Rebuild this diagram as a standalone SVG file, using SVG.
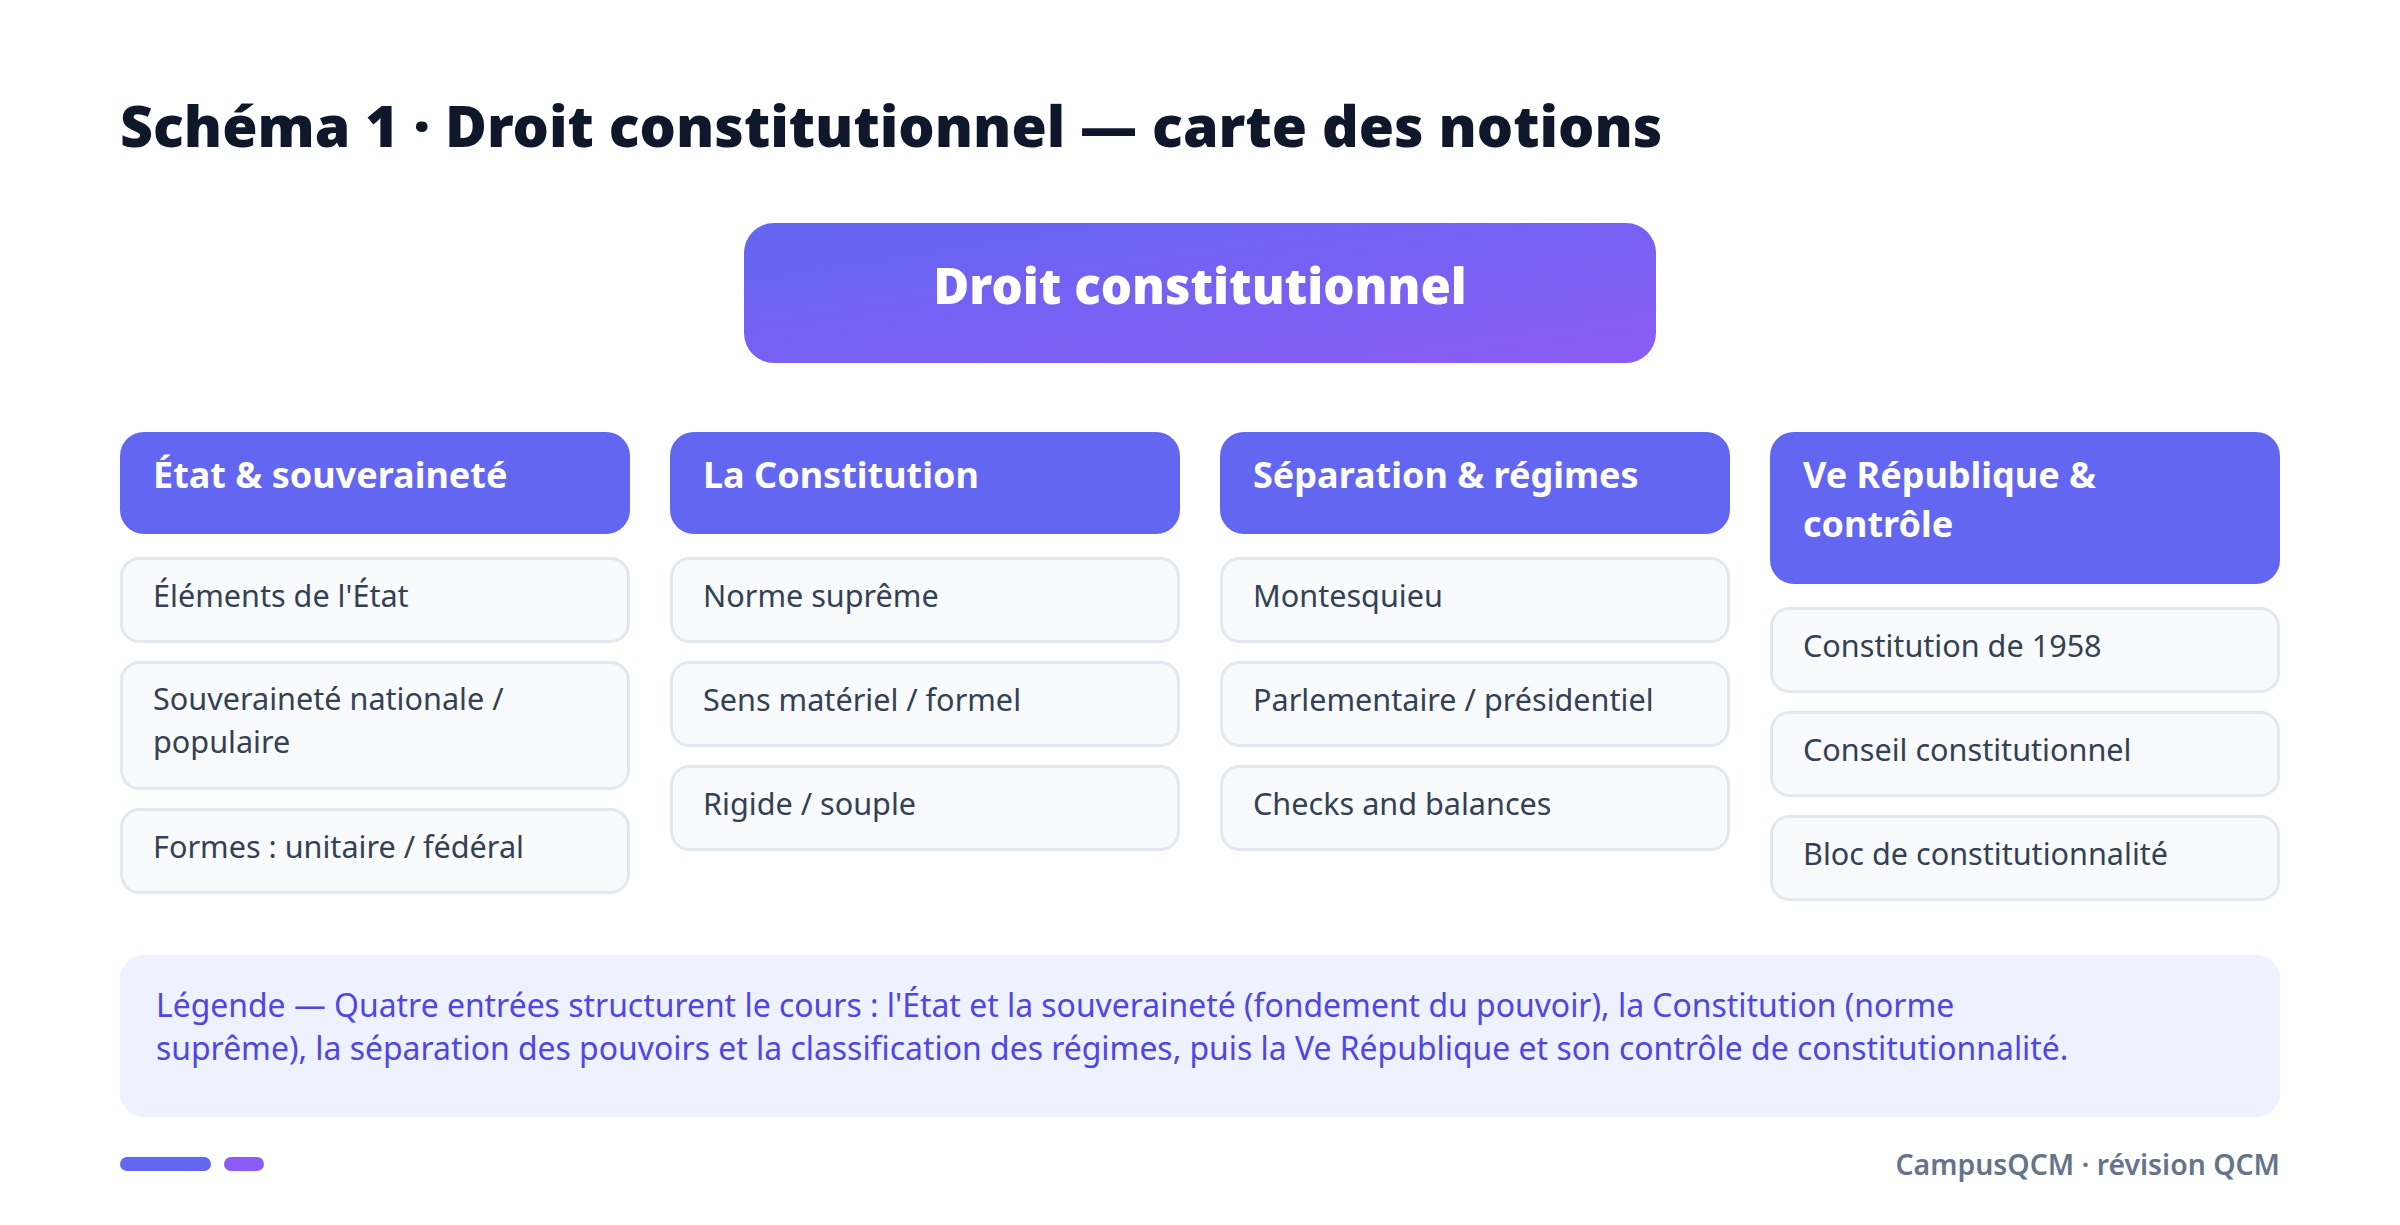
<svg xmlns="http://www.w3.org/2000/svg" width="2400" height="1225" viewBox="0 0 2400 1225">
<defs>
<linearGradient id="rootGrad" x1="0" y1="0" x2="1" y2="1">
<stop offset="0" stop-color="#6366f1"/>
<stop offset="1" stop-color="#8b5cf6"/>
</linearGradient>
<style>
text{font-family:"Noto Sans","Open Sans","DejaVu Sans",sans-serif}
.title{font-size:57.2px;font-weight:900;fill:#0f172a}
.root-t{font-size:49.2px;font-weight:900;fill:#ffffff}
.hdr{fill:#6366f1}
.hdr-t{font-size:36px;font-weight:700;fill:#ffffff}
.item{fill:#f8fafc;stroke:#e2e8f0;stroke-width:3}
.item-t{font-size:30.6px;font-weight:400;fill:#334155}
.legend{fill:#eef2ff}
.legend-t{font-size:31.9px;font-weight:400;fill:#4f46e5}
.foot{font-size:28.4px;font-weight:600;fill:#64748b}
</style>
</defs>
<rect width="2400" height="1225" fill="#ffffff"/>
<text class="title" x="120" y="147">Schéma 1 · Droit constitutionnel — carte des notions</text>

<g id="root">
<rect x="744" y="223" width="912" height="140" rx="30" fill="url(#rootGrad)"/>
<text class="root-t" x="1200" y="304" text-anchor="middle">Droit constitutionnel</text>
</g>

<g id="connectors"></g>

<g id="col1-header"><rect class="hdr" x="120" y="432" width="510" height="102" rx="24"/><text class="hdr-t" x="153" y="488">État &amp; souveraineté</text></g>
<g id="col1-item1"><rect class="item" x="121.5" y="558.5" width="507" height="83" rx="18"/><text class="item-t" x="153" y="607">Éléments de l'État</text></g>
<g id="col1-item2"><rect class="item" x="121.5" y="662.5" width="507" height="126" rx="18"/><text class="item-t" x="153" y="710">Souveraineté nationale /</text><text class="item-t" x="153" y="753">populaire</text></g>
<g id="col1-item3"><rect class="item" x="121.5" y="809.5" width="507" height="83" rx="18"/><text class="item-t" x="153" y="858">Formes : unitaire / fédéral</text></g>

<g id="col2-header"><rect class="hdr" x="670" y="432" width="510" height="102" rx="24"/><text class="hdr-t" x="703" y="488">La Constitution</text></g>
<g id="col2-item1"><rect class="item" x="671.5" y="558.5" width="507" height="83" rx="18"/><text class="item-t" x="703" y="607">Norme suprême</text></g>
<g id="col2-item2"><rect class="item" x="671.5" y="662.5" width="507" height="83" rx="18"/><text class="item-t" x="703" y="711">Sens matériel / formel</text></g>
<g id="col2-item3"><rect class="item" x="671.5" y="766.5" width="507" height="83" rx="18"/><text class="item-t" x="703" y="815">Rigide / souple</text></g>

<g id="col3-header"><rect class="hdr" x="1220" y="432" width="510" height="102" rx="24"/><text class="hdr-t" x="1253" y="488">Séparation &amp; régimes</text></g>
<g id="col3-item1"><rect class="item" x="1221.5" y="558.5" width="507" height="83" rx="18"/><text class="item-t" x="1253" y="607">Montesquieu</text></g>
<g id="col3-item2"><rect class="item" x="1221.5" y="662.5" width="507" height="83" rx="18"/><text class="item-t" x="1253" y="711">Parlementaire / présidentiel</text></g>
<g id="col3-item3"><rect class="item" x="1221.5" y="766.5" width="507" height="83" rx="18"/><text class="item-t" x="1253" y="815">Checks and balances</text></g>

<g id="col4-header"><rect class="hdr" x="1770" y="432" width="510" height="152" rx="24"/><text class="hdr-t" x="1803" y="488">Ve République &amp;</text><text class="hdr-t" x="1803" y="537">contrôle</text></g>
<g id="col4-item1"><rect class="item" x="1771.5" y="608.5" width="507" height="83" rx="18"/><text class="item-t" x="1803" y="657">Constitution de 1958</text></g>
<g id="col4-item2"><rect class="item" x="1771.5" y="712.5" width="507" height="83" rx="18"/><text class="item-t" x="1803" y="761">Conseil constitutionnel</text></g>
<g id="col4-item3"><rect class="item" x="1771.5" y="816.5" width="507" height="83" rx="18"/><text class="item-t" x="1803" y="865">Bloc de constitutionnalité</text></g>

<g id="legend">
<rect class="legend" x="120" y="955" width="2160" height="162" rx="24"/>
<text class="legend-t" x="156" y="1017">Légende — Quatre entrées structurent le cours : l'État et la souveraineté (fondement du pouvoir), la Constitution (norme</text>
<text class="legend-t" x="156" y="1060">suprême), la séparation des pouvoirs et la classification des régimes, puis la Ve République et son contrôle de constitutionnalité.</text>
</g>

<g id="footer">
<rect x="120" y="1157" width="91" height="14" rx="7" fill="#6366f1"/>
<rect x="224" y="1157" width="40" height="14" rx="7" fill="#8b5cf6"/>
<text class="foot" x="2280" y="1175" text-anchor="end">CampusQCM · révision QCM</text>
</g>
</svg>
